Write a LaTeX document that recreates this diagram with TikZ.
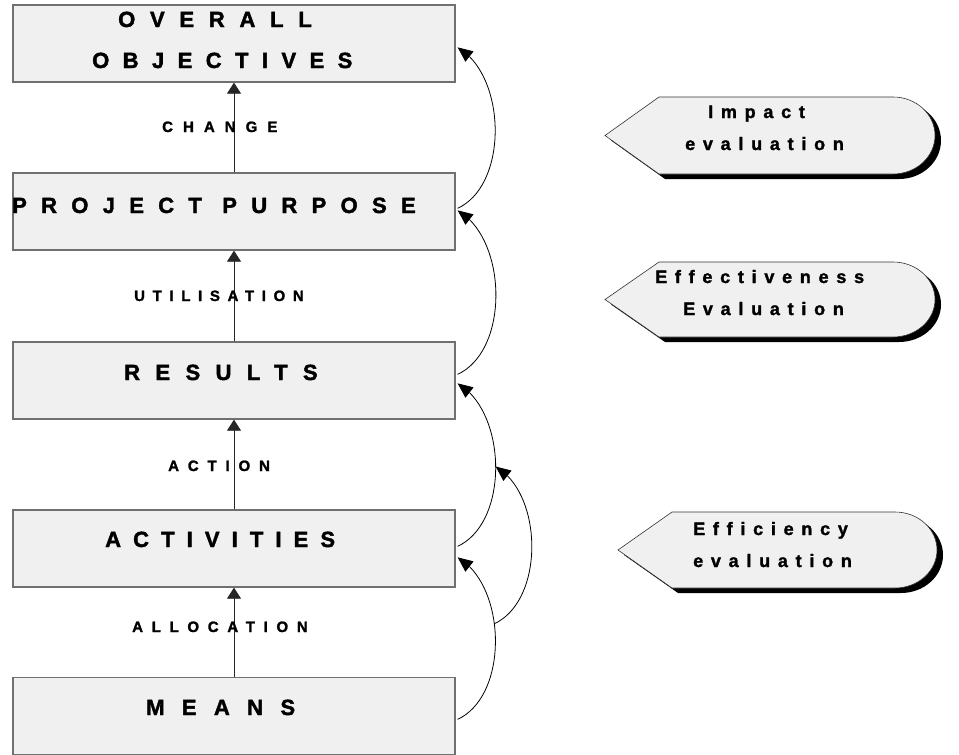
\documentclass[tikz,border=0pt]{standalone}
\usepackage{fontspec}
\setmainfont{Liberation Sans}[BoldFont={Liberation Sans Bold}]
\usetikzlibrary{arrows.meta,bending,calc}
\definecolor{boxfill}{HTML}{F0F0F0}
\definecolor{boxline}{HTML}{707070}
\tikzset{
  box/.style={draw=boxline, line width=1.3pt, fill=boxfill, minimum width=442pt, minimum height=77pt, inner sep=0pt},
  bigtext/.style={anchor=base west, inner sep=0pt, font=\fontsize{22}{26}\selectfont\bfseries\addfontfeatures{LetterSpace=#1,FakeBold=1.8}},
  lbl/.style={anchor=base west, inner sep=0pt, font=\fontsize{15}{18}\selectfont\bfseries\addfontfeatures{LetterSpace=#1,FakeBold=1.6}},
  evtext/.style={anchor=base west, inner sep=0pt, font=\fontsize{18}{21}\selectfont\bfseries\addfontfeatures{LetterSpace=43,FakeBold=1.6}},
  varrow/.style={draw=black!85, line width=0.8pt, -{Triangle[length=11pt,width=14pt]}},
  carrow/.style={draw=black, line width=0.8pt, looseness=0.9, -{Triangle[length=15pt,width=13pt]}},
  evshadow/.style={fill=black, shift={(6,-5)}},
  evshape/.style={draw=black!80, line width=0.6pt, fill=boxfill}
}
\begin{document}
\begin{tikzpicture}[x=1pt,y=1pt]
\useasboundingbox (0,0) rectangle (959,-755);
% boxes
\node[box] (oo) at (234,-43.5) {};
\node[box] (pp) at (234,-211.5) {};
\node[box] (res) at (234,-380.5) {};
\node[box] (act) at (234,-548.5) {};
\node[box] (mea) at (234,-716) {};
% vertical arrows
\draw[varrow] (pp.north) -- (oo.south);
\draw[varrow] (res.north) -- (pp.south);
\draw[varrow] (act.north) -- (res.south);
\draw[varrow] (mea.north) -- (act.south);
% box texts
\node[bigtext=67] (t1a) at (118,-27) {OVERALL};
\node[bigtext=61] (t1b) at (92,-68) {OBJECTIVES};
\node[bigtext=65] (t2) at (12,-213) {PROJECT PURPOSE};
\node[bigtext=70] (t3) at (124,-380) {RESULTS};
\node[bigtext=55] (t4) at (105,-547) {ACTIVITIES};
\node[bigtext=79] (t5) at (146,-715) {MEANS};
% labels
\node[lbl=67] (l1) at (162,-132) {CHANGE};
\node[lbl=51] (l2) at (134,-301) {UTILISATION};
\node[lbl=59] (l3) at (168,-471) {ACTION};
\node[lbl=58] (l4) at (132,-632) {ALLOCATION};
% curved arrows
\draw[carrow] ($(pp.north east)+(2,-36)$) to[out=25,in=-30] ($(oo.north east)+(2,-43)$);
\draw[carrow] ($(res.north east)+(2,-33)$) to[out=25,in=-30] ($(pp.north east)+(2,-38)$);
\draw[carrow] ($(act.north east)+(2,-37)$) to[out=25,in=-30] coordinate[pos=0.5] (c3m) ($(res.north east)+(2,-42)$);
\draw[carrow] ($(mea.north east)+(2,-42.5)$) to[out=25,in=-30] coordinate[pos=0.58] (c4m) ($(act.north east)+(2,-48)$);
\draw[carrow] (c4m) to[out=25,in=-30] (c3m);
% evaluation callouts
\path[evshadow] (605,-135.5) -- (659,-97) -- (893,-97) arc[start angle=90,end angle=-90,x radius=42,y radius=38.5] -- (659,-174) -- cycle;
\path[evshape] (605,-135.5) -- (659,-97) -- (893,-97) arc[start angle=90,end angle=-90,x radius=42,y radius=38.5] -- (659,-174) -- cycle;
\path[evshadow] (605,-299.5) -- (659,-262) -- (893,-262) arc[start angle=90,end angle=-90,x radius=42,y radius=37.5] -- (659,-337) -- cycle;
\path[evshape] (605,-299.5) -- (659,-262) -- (893,-262) arc[start angle=90,end angle=-90,x radius=42,y radius=37.5] -- (659,-337) -- cycle;
\path[evshadow] (618,-550) -- (672,-512) -- (895,-512) arc[start angle=90,end angle=-90,x radius=42,y radius=38] -- (672,-588) -- cycle;
\path[evshape] (618,-550) -- (672,-512) -- (895,-512) arc[start angle=90,end angle=-90,x radius=42,y radius=38] -- (672,-588) -- cycle;
\node[evtext] (e1a) at (708,-118) {Impact};
\node[evtext] (e1b) at (685,-150) {evaluation};
\node[evtext] (e2a) at (655,-283) {Effectiveness};
\node[evtext] (e2b) at (683,-315) {Evaluation};
\node[evtext] (e3a) at (693,-535) {Efficiency};
\node[evtext] (e3b) at (693,-567) {evaluation};
\end{tikzpicture}
\end{document}
